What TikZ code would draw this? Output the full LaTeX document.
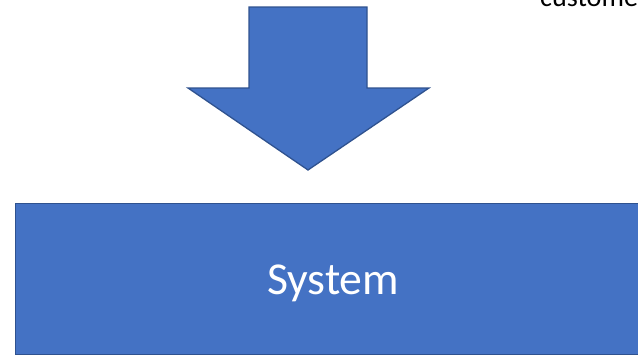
\documentclass[tikz,border=0pt]{standalone}
\usepackage{fontspec}
\setmainfont{Carlito}
\usetikzlibrary{positioning}
\definecolor{boxblue}{RGB}{68,114,196}
\definecolor{edgeblue}{RGB}{47,82,143}

\begin{document}
\begin{tikzpicture}[
  x=0.03cm,y=-0.03cm,
  shapefill/.style={fill=boxblue,draw=edgeblue,line width=1.1pt,line join=miter},
  sysbox/.style={shapefill,rectangle,minimum width=635*0.03cm,minimum height=151*0.03cm,
    inner sep=0pt,text=white,font=\fontsize{39}{44}\selectfont,
    text height=26.5pt,text depth=0pt},
  toplabel/.style={anchor=base west,inner sep=0pt,font=\fontsize{24}{28}\selectfont}
]
\useasboundingbox (0,0) rectangle (638,355);
% arrow pointing down
\draw[shapefill] (249,7) -- (367,7) -- (367,88) -- (429,88) -- (308,170)
  -- (188,88) -- (249,88) -- cycle;
% the system block, cut at the right edge
\node[sysbox,anchor=north west] (sys) at (15,203) {System};
\node[toplabel] (cust) at (540,6) {custome};
\end{tikzpicture}
\end{document}
